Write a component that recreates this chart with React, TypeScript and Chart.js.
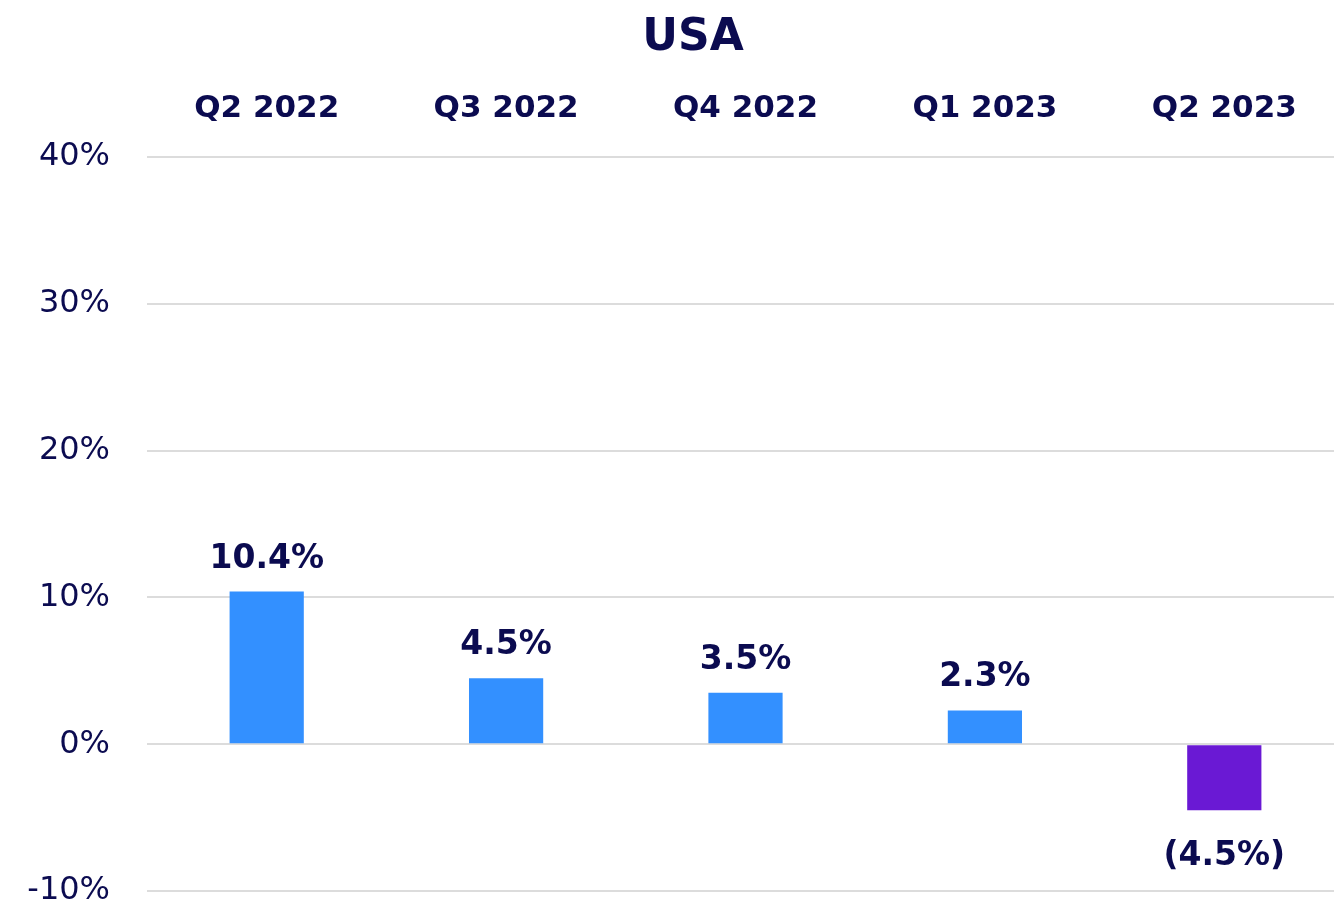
import React, { useEffect, useRef } from "react";
import { Chart, registerables } from "chart.js";

Chart.register(...registerables);

const categories = ["Q2 2022", "Q3 2022", "Q4 2022", "Q1 2023", "Q2 2023"];
const values = [10.4, 4.5, 3.5, 2.3, -4.5];
const barColors = ["#3390FF", "#3390FF", "#3390FF", "#3390FF", "#6A19D4"];
const titleText = "USA";

const NAVY = "#0B0B50";
const FONT = "'DejaVu Sans', sans-serif";

const fmt = (v: number) => (v < 0 ? `(${Math.abs(v).toFixed(1)}%)` : `${v.toFixed(1)}%`);

const labelPlugin = {
  id: "barLabels",
  afterDatasetsDraw(chart: any) {
    const ctx = chart.ctx;
    const meta = chart.getDatasetMeta(0);
    ctx.save();
    ctx.font = `bold 33px ${FONT}`;
    ctx.fillStyle = NAVY;
    ctx.textAlign = "center";
    ctx.textBaseline = "alphabetic";
    meta.data.forEach((bar: any, i: number) => {
      const v = values[i];
      if (v >= 0) {
        ctx.fillText(fmt(v), bar.x, bar.y - 24);
      } else {
        ctx.fillText(fmt(v), bar.x, bar.y + 55);
      }
    });
    // title
    ctx.font = `bold 44px ${FONT}`;
    ctx.fillText(titleText, 693, 50);
    ctx.restore();
  },
};

export default function App() {
  const ref = useRef<HTMLCanvasElement>(null);
  useEffect(() => {
    document.body.style.margin = "0";
    const chart = new Chart(ref.current!, {
      type: "bar",
      data: {
        labels: categories,
        datasets: [
          {
            data: values,
            backgroundColor: barColors,
            categoryPercentage: 1,
            barPercentage: 0.31,
          },
        ],
      },
      options: {
        animation: false,
        responsive: false,
        maintainAspectRatio: false,
        layout: { padding: { top: 62, right: 0, bottom: 0, left: 0 } },
        plugins: {
          legend: { display: false },
          tooltip: { enabled: false },
          title: { display: false },
        },
        scales: {
          x: {
            position: "top",
            grid: { display: false, drawTicks: false },
            border: { display: false },
            ticks: {
              color: NAVY,
              font: { family: FONT, size: 31, weight: "bold" },
              padding: 29,
              maxRotation: 0,
            },
            afterFit: (scale: any) => {
              scale.height = 157 - 62;
            },
          },
          y: {
            min: -10,
            max: 40,
            grid: { color: "#DCDCDC", lineWidth: 2, drawTicks: false },
            border: { display: false },
            ticks: {
              stepSize: 10,
              color: NAVY,
              font: { family: FONT, size: 32 },
              padding: 37,
              callback: (v: any) => `${v}%`,
            },
            afterFit: (scale: any) => {
              scale.width = 147;
              scale.paddingTop = 0;
              scale.paddingBottom = 22;
            },
          },
        },
      },
      plugins: [labelPlugin],
    });
    return () => chart.destroy();
  }, []);
  return (
    <div style={{ position: "fixed", left: 0, top: 0, width: 1334, height: 913, overflow: "hidden" }}>
      <canvas ref={ref} width={1344} height={913} style={{ display: "block" }} />
    </div>
  );
}
